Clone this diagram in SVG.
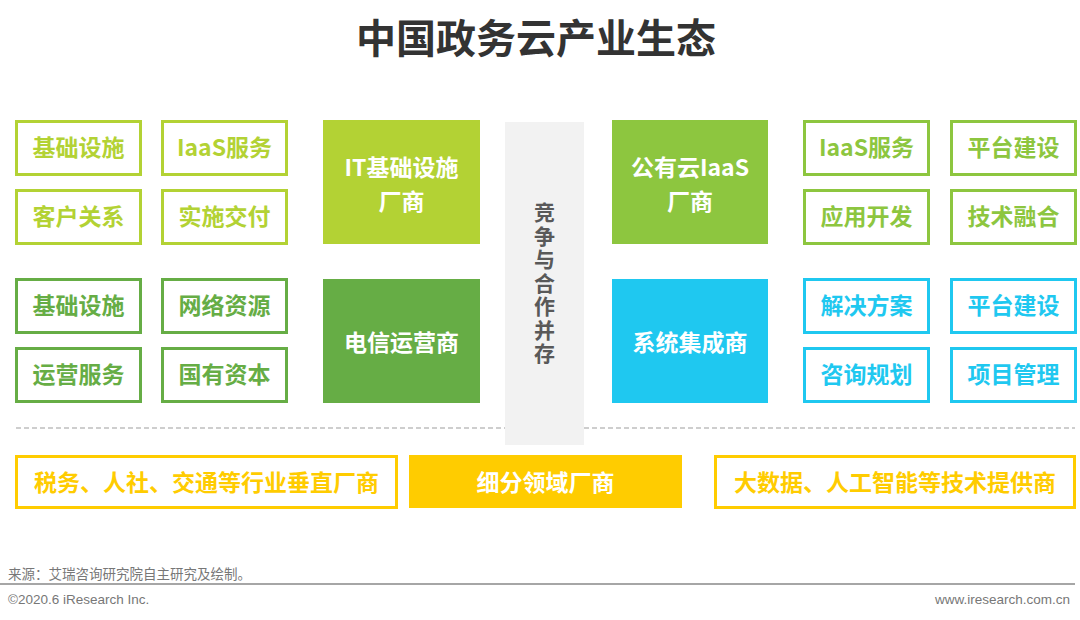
<svg xmlns="http://www.w3.org/2000/svg" width="1080" height="620" viewBox="0 0 1080 620">
<style>
text{font-family:"Noto Sans CJK SC","Noto Sans",sans-serif;font-weight:bold;text-anchor:middle;}
.t{font-size:23px;}
.v{font-size:21px;fill:#595959;writing-mode:vertical-rl;letter-spacing:2.5px;}
.ob{fill:#fff;stroke-width:3;}
.lg{stroke:#B3D234;} .lgt{fill:#B3D234;}
.dg{stroke:#66AD45;} .dgt{fill:#66AD45;}
.mg{stroke:#8DC63F;} .mgt{fill:#8DC63F;}
.cy{stroke:#1FC8F0;} .cyt{fill:#1FC8F0;}
.ye{stroke:#FFCC00;} .yet{fill:#FFCC00;}
.w{fill:#fff;}
.foot{font-family:"Liberation Sans","Noto Sans CJK SC",sans-serif;font-weight:normal;font-size:13.5px;fill:#777;}
</style>
<rect width="1080" height="620" fill="#fff"/>
<text x="536" y="53" style="font-size:40px;fill:#333">中国政务云产业生态</text>

<g id="connectors">
<line x1="16" y1="428" x2="505" y2="428" stroke="#BFBFBF" stroke-width="1.5" stroke-dasharray="5 3"/>
<line x1="584" y1="428" x2="1075" y2="428" stroke="#BFBFBF" stroke-width="1.5" stroke-dasharray="5 3"/>
</g>

<g id="coop">
<rect x="505" y="122" width="79" height="323" fill="#F2F2F2"/>
<text class="v" x="544.5" y="284">竞争与合作并存</text>
</g>

<g id="it-vendor">
<rect x="323" y="120" width="157" height="124" fill="#B3D234"/>
<text class="t w" x="401.5" y="176">IT基础设施</text>
<text class="t w" x="401.5" y="210">厂商</text>
</g>
<g id="telecom">
<rect x="323" y="279" width="157" height="124" fill="#66AD45"/>
<text class="t w" x="401.5" y="351">电信运营商</text>
</g>
<g id="public-cloud">
<rect x="612" y="120" width="156" height="124" fill="#8DC63F"/>
<text class="t w" x="690" y="176">公有云IaaS</text>
<text class="t w" x="690" y="210">厂商</text>
</g>
<g id="integrator">
<rect x="612" y="279" width="156" height="124" fill="#1FC8F0"/>
<text class="t w" x="690" y="351">系统集成商</text>
</g>

<g id="l1"><rect class="ob lg" x="16.5" y="121.5" width="124" height="53"/><text class="t lgt" x="78.5" y="156">基础设施</text></g>
<g id="l2"><rect class="ob lg" x="162.5" y="121.5" width="124" height="53"/><text class="t lgt" x="224.5" y="156">IaaS服务</text></g>
<g id="l3"><rect class="ob lg" x="16.5" y="190.5" width="124" height="53"/><text class="t lgt" x="78.5" y="225">客户关系</text></g>
<g id="l4"><rect class="ob lg" x="162.5" y="190.5" width="124" height="53"/><text class="t lgt" x="224.5" y="225">实施交付</text></g>
<g id="l5"><rect class="ob dg" x="16.5" y="279.5" width="124" height="53"/><text class="t dgt" x="78.5" y="314">基础设施</text></g>
<g id="l6"><rect class="ob dg" x="162.5" y="279.5" width="124" height="53"/><text class="t dgt" x="224.5" y="314">网络资源</text></g>
<g id="l7"><rect class="ob dg" x="16.5" y="348.5" width="124" height="53"/><text class="t dgt" x="78.5" y="383">运营服务</text></g>
<g id="l8"><rect class="ob dg" x="162.5" y="348.5" width="124" height="53"/><text class="t dgt" x="224.5" y="383">国有资本</text></g>

<g id="r1"><rect class="ob mg" x="804.5" y="121.5" width="124" height="53"/><text class="t mgt" x="866.5" y="156">IaaS服务</text></g>
<g id="r2"><rect class="ob mg" x="951.5" y="121.5" width="124" height="53"/><text class="t mgt" x="1013.5" y="156">平台建设</text></g>
<g id="r3"><rect class="ob mg" x="804.5" y="190.5" width="124" height="53"/><text class="t mgt" x="866.5" y="225">应用开发</text></g>
<g id="r4"><rect class="ob mg" x="951.5" y="190.5" width="124" height="53"/><text class="t mgt" x="1013.5" y="225">技术融合</text></g>
<g id="r5"><rect class="ob cy" x="804.5" y="279.5" width="124" height="53"/><text class="t cyt" x="866.5" y="314">解决方案</text></g>
<g id="r6"><rect class="ob cy" x="951.5" y="279.5" width="124" height="53"/><text class="t cyt" x="1013.5" y="314">平台建设</text></g>
<g id="r7"><rect class="ob cy" x="804.5" y="348.5" width="124" height="53"/><text class="t cyt" x="866.5" y="383">咨询规划</text></g>
<g id="r8"><rect class="ob cy" x="951.5" y="348.5" width="124" height="53"/><text class="t cyt" x="1013.5" y="383">项目管理</text></g>

<g id="b1"><rect class="ob ye" x="16.5" y="456.5" width="380" height="51"/><text class="t yet" x="206.5" y="491">税务、人社、交通等行业垂直厂商</text></g>
<g id="b2"><rect x="409" y="455" width="273" height="53" fill="#FFCC00"/><text class="t w" x="545.5" y="491">细分领域厂商</text></g>
<g id="b3"><rect class="ob ye" x="715.5" y="456.5" width="359" height="51"/><text class="t yet" x="895" y="491">大数据、人工智能等技术提供商</text></g>

<text class="foot" x="8" y="579" style="text-anchor:start">来源：艾瑞咨询研究院自主研究及绘制。</text>
<line x1="0" y1="584" x2="1075" y2="584" stroke="#888" stroke-width="1.5"/>
<text class="foot" x="8" y="604" style="text-anchor:start">©2020.6 iResearch Inc.</text>
<text class="foot" x="1070" y="604" style="text-anchor:end">www.iresearch.com.cn</text>
</svg>
